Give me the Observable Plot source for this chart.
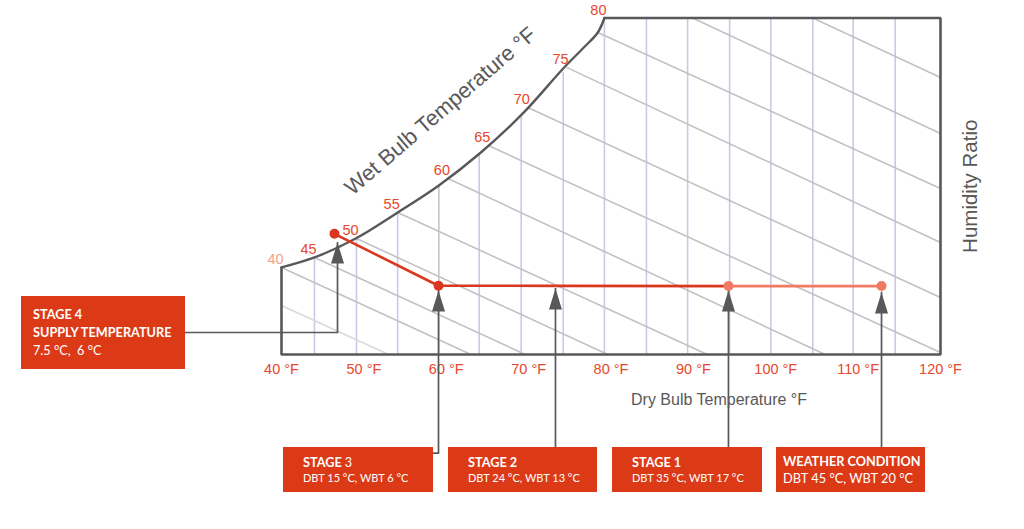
<!DOCTYPE html>
<html>
<head>
<meta charset="utf-8">
<script src="https://cdn.jsdelivr.net/npm/d3@7"></script>
<script src="https://cdn.jsdelivr.net/npm/@observablehq/plot@0.6"></script>
<style>
  body { margin: 0; background: #fff; }
  #wrap { position: relative; width: 1024px; height: 529px; overflow: hidden; }
  #wrap svg { position: absolute; left: 0; top: 0; }
  .box { position: absolute; background: #dc3a17; color: #fff; font-family: Lato, "Open Sans", sans-serif; box-sizing: border-box; }
  .box .l1 { font-weight: 700; font-size: 12.7px; line-height: 16px; white-space: nowrap; }
  .box .l2 { font-weight: 400; font-size: 11px; line-height: 16px; white-space: nowrap; }
  .box .n { font-weight: 400; }
</style>
</head>
<body>
<div id="wrap"></div>
<script>
// ---------- data ----------
const dbtTicks = [40, 50, 60, 70, 80, 90, 100, 110, 120];

// saturation curve (dry bulb °F, humidity ratio g/kg)
const satDBT = [40, 44.0, 49.0, 54.1, 59.1, 64.2, 69.3, 74.2, 76.7, 78.4, 79.2];
const satW   = [7.76, 8.65, 10.34, 12.66, 15.07, 18.01, 21.49, 25.5, 27.37, 28.71, 30];

// vertical dry-bulb grid lines
const gridDBT = [44.0, 49.1, 54.1, 59.1, 64.0, 69.1, 74.2, 79.2, 84.3, 89.3, 94.4, 99.4, 104.5, 109.4, 114.5];
const gridTop = [8.65, 10.34, 12.6, 15.0, 17.9, 21.3, 25.2, 30, 30, 30, 30, 30, 30, 30, 30];
const gridTone = ["l", "l", "l", "g", "l", "l", "l", "l", "l", "l", "l", "l", "l", "l", "l"];

// wet-bulb lines
const wbX1 = [40, 44.0, 49.1, 54.1, 60.2, 65.1, 69.9, 74.6, 78.4, 89.9, 104.5, 40];
const wbY1 = [7.76, 8.65, 10.34, 12.66, 15.69, 18.63, 22.02, 25.6, 28.71, 30, 30, 4.37];
const wbX2 = [63.0, 69.6, 79.6, 91.7, 106.0, 120, 120, 120, 120, 120, 120, 53.0];
const wbY2 = [0, 0, 0, 0, 0, 0.18, 5.08, 9.98, 14.8, 19.7, 24.7, 0];
const wbTone = ["m", "m", "m", "m", "m", "m", "m", "m", "m", "m", "m", "s"];

// wet-bulb labels
const wbLabels = ["40", "45", "50", "55", "60", "65", "70", "75", "80"];
const wbLabelX = [40, 44.0, 49.1, 54.1, 60.2, 65.1, 69.9, 74.6, 79.2];
const wbLabelY = [7.76, 8.65, 10.34, 12.66, 15.69, 18.63, 22.02, 25.6, 30];

// process points
const stageNames = ["STAGE 4", "STAGE 3", "STAGE 2", "STAGE 1", "WEATHER CONDITION"];
const processDBT = [46.43, 59.06, 73.26, 94.26, 112.84];
const processW   = [10.76, 6.13, 6.12, 6.1, 6.1];
const hasDot     = [true, true, false, true, true];
const pointTone  = ["dark", "dark", "dark", "light", "light"];
const segTone    = ["dark", "dark", "dark", "light"];

// arrows (tip positions)
const arrowDBT  = [46.8, 59.06, 73.26, 94.26, 112.84];
const arrowTipW = [9.98, 5.71, 5.88, 5.71, 5.53];

// ---------- derived tables ----------
const sat = satDBT.map((x, i) => ({x, y: satW[i]}));
const grid = gridDBT.map((x, i) => ({x, top: gridTop[i], tone: gridTone[i]}));
const wb = wbX1.map((x, i) => ({x1: x, y1: wbY1[i], x2: wbX2[i], y2: wbY2[i], tone: wbTone[i]}));
const wbLab = wbLabels.map((t, i) => ({t, x: wbLabelX[i], y: wbLabelY[i], light: i === 0}));
const pts = processDBT.map((x, i) => ({name: stageNames[i], x, y: processW[i], dot: hasDot[i], tone: pointTone[i]}));
const segs = pts.slice(0, -1).map((p, i) => ({x1: p.x, y1: p.y, x2: pts[i + 1].x, y2: pts[i + 1].y, tone: segTone[i]}));
const arrows = arrowDBT.map((x, i) => ({x, y: arrowTipW[i]}));

// box edges in chart units (boxes themselves are HTML)
const boxTopW = -8.29, jogW = -8.8, stage4W = 1.96, stage4BoxDBT = 28.35, stage3BoxDBT = 58.45;
const connectors = [
  [{x: stage4BoxDBT, y: stage4W}, {x: arrows[0].x, y: stage4W}, {x: arrows[0].x, y: arrows[0].y}],
  [{x: stage3BoxDBT, y: jogW}, {x: arrows[1].x, y: jogW}, {x: arrows[1].x, y: arrows[1].y}],
  [{x: arrows[2].x, y: boxTopW}, {x: arrows[2].x, y: arrows[2].y}],
  [{x: arrows[3].x, y: boxTopW}, {x: arrows[3].x, y: arrows[3].y}],
  [{x: arrows[4].x, y: boxTopW}, {x: arrows[4].x, y: arrows[4].y}]
].flatMap((c, k) => c.map(p => ({...p, k})));

const frame = [
  {x: 79.2, y: 30}, {x: 120, y: 30}, {x: 120, y: 0}, {x: 40, y: 0}, {x: 40, y: 7.76}
];

const RED = "#e8472b", RED_LIGHT = "#f4a08e", DARK = "#d9381e", SALMON = "#f17a63", INK = "#585858";

const arrowHead = {
  draw(ctx) {
    ctx.moveTo(0, 0);
    ctx.lineTo(6.5, 21);
    ctx.lineTo(-6.5, 21);
    ctx.closePath();
  }
};

const chart = Plot.plot({
  width: 1024,
  height: 529,
  marginLeft: 281,
  marginRight: 84,
  marginTop: 17.5,
  marginBottom: 175,
  style: {fontFamily: '"Liberation Sans", Arial, sans-serif', background: "transparent", overflow: "visible"},
  x: {domain: [40, 120], axis: null},
  y: {domain: [0, 30], axis: null},
  marks: [
    // vertical grid
    Plot.link(grid, {x1: "x", x2: "x", y1: 0, y2: "top",
      stroke: d => d.tone === "g" ? "#c6c6c6" : "#cbc8e8", strokeWidth: 1.6}),
    // wet bulb lines
    Plot.link(wb, {x1: "x1", y1: "y1", x2: "x2", y2: "y2",
      stroke: d => d.tone === "s" ? "#dadada" : "#c2c2c2", strokeWidth: 1.6}),
    // frame
    Plot.line(frame, {x: "x", y: "y", stroke: INK, strokeWidth: 2.6, strokeLinejoin: "miter"}),
    // saturation curve
    Plot.line(sat, {x: "x", y: "y", stroke: INK, strokeWidth: 2.4, curve: "catmull-rom"}),
    // wet bulb labels
    Plot.text(wbLab, {x: "x", y: "y", text: "t", dx: -6, dy: -8, fontSize: 14.5,
      fill: d => d.light ? RED_LIGHT : RED}),
    // x tick labels
    Plot.text(dbtTicks, {x: d => d, y: 0, text: d => `${d} °F`, dy: 15, fontSize: 14.5, fill: RED}),
    // axis titles
    Plot.text(["Dry Bulb Temperature °F"], {frameAnchor: "bottom", textAnchor: "middle", lineAnchor: "middle",
      dx: 108, dy: 45, fontSize: 16, fill: INK}),
    Plot.text(["Humidity Ratio"], {frameAnchor: "right", textAnchor: "middle", lineAnchor: "middle",
      dx: 30, rotate: -90, fontSize: 20.5, fill: INK}),
    Plot.text(["Wet Bulb Temperature °F"], {x: [59.3], y: [21.7], text: d => d, rotate: -40.7,
      fontSize: 21.8, fill: INK}),
    // connectors
    Plot.line(connectors, {x: "x", y: "y", z: "k", stroke: INK, strokeWidth: 1.7, curve: "linear"}),
    Plot.dot(arrows, {x: "x", y: "y", symbol: arrowHead, fill: INK, stroke: "none"}),
    // process lines
    Plot.link(segs, {x1: "x1", y1: "y1", x2: "x2", y2: "y2",
      stroke: d => d.tone === "light" ? SALMON : DARK, strokeWidth: 2.6}),
    Plot.dot(pts.filter(d => d.dot), {x: "x", y: "y", r: 5,
      fill: d => d.tone === "light" ? SALMON : DARK, stroke: "none"})
  ]
});

const wrap = document.getElementById("wrap");
wrap.appendChild(chart);

// annotation boxes
const boxes = [
  {left: 21, top: 296, w: 164, h: 73, pl: 12, pt: 9,
   html: '<div class="l1" style="line-height:18px">STAGE 4</div><div class="l1" style="line-height:18px">SUPPLY TEMPERATURE</div><div class="l2" style="font-size:12.7px;line-height:18px">7.5 °C,&nbsp; 6 °C</div>'},
  {left: 283, top: 447, w: 150, h: 45, pl: 20, pt: 7,
   html: '<div class="l1">STAGE <span class="n">3</span></div><div class="l2">DBT 15 °C, WBT 6 °C</div>'},
  {left: 448, top: 447, w: 149, h: 45, pl: 20, pt: 7,
   html: '<div class="l1">STAGE 2</div><div class="l2">DBT 24 °C, WBT 13 °C</div>'},
  {left: 612, top: 447, w: 150, h: 45, pl: 20, pt: 7,
   html: '<div class="l1">STAGE 1</div><div class="l2">DBT 35 °C, WBT 17 °C</div>'},
  {left: 776, top: 447, w: 149, h: 45, pl: 7, pt: 6,
   html: '<div class="l1">WEATHER CONDITION</div><div class="l2" style="font-size:12.8px;line-height:19px">DBT 45 °C, WBT 20 °C</div>'}
];
for (const b of boxes) {
  const el = document.createElement("div");
  el.className = "box";
  el.style.left = b.left + "px";
  el.style.top = b.top + "px";
  el.style.width = b.w + "px";
  el.style.height = b.h + "px";
  el.style.paddingLeft = b.pl + "px";
  el.style.paddingTop = b.pt + "px";
  el.innerHTML = b.html;
  wrap.appendChild(el);
}
</script>
</body>
</html>
